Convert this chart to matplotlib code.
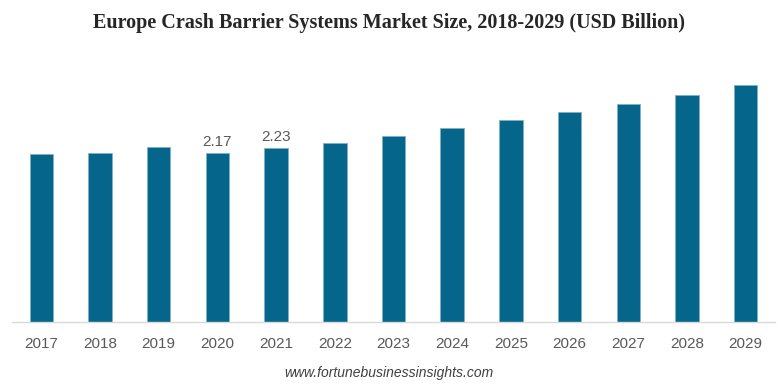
import matplotlib
matplotlib.use("Agg")
import matplotlib.pyplot as plt

years = ["2017", "2018", "2019", "2020", "2021", "2022", "2023",
         "2024", "2025", "2026", "2027", "2028", "2029"]
values = [2.16, 2.17, 2.25, 2.17, 2.23, 2.30, 2.39, 2.49, 2.59, 2.69, 2.80, 2.91, 3.04]
labeled = {"2020": "2.17", "2021": "2.23"}

fig = plt.figure(figsize=(7.78, 3.87), dpi=100)
ax = fig.add_axes([12 / 778, 0.1667, (775 - 12) / 778, 0.8127 - 0.1667])

x = list(range(len(years)))
bars = ax.bar(x, values, width=0.4, color="#05658A", edgecolor="#7FB0C6", linewidth=0.6)
ax.set_xlim(-0.5, len(years) - 0.5)
ax.set_ylim(0, 3.2)

for i, y in enumerate(years):
    if y in labeled:
        ax.annotate(labeled[y], (i, values[i]), xytext=(0, 3), textcoords="offset points",
                    ha="center", va="bottom", fontsize=11, color="#595959",
                    family="Liberation Sans")

ax.set_xticks(x)
ax.set_xticklabels(years, fontsize=11, color="#595959", family="Liberation Sans")
ax.tick_params(axis="x", length=0, pad=10.5)
ax.set_yticks([])
for s in ["top", "right", "left"]:
    ax.spines[s].set_visible(False)
ax.spines["bottom"].set_color("#D9D9D9")
ax.spines["bottom"].set_linewidth(1.0)

fig.text(0.5, 1 - 23 / 387, "Europe Crash Barrier Systems Market Size, 2018-2029 (USD Billion)",
         ha="center", va="center", fontsize=14.5, fontweight="bold", color="#262626",
         family="Liberation Serif")
fig.text(0.5, 1 - 373 / 387, "www.fortunebusinessinsights.com", ha="center", va="center",
         fontsize=10, style="italic", color="#404040", family="Liberation Sans")

fig.savefig("out.png", dpi=100, facecolor="white")
